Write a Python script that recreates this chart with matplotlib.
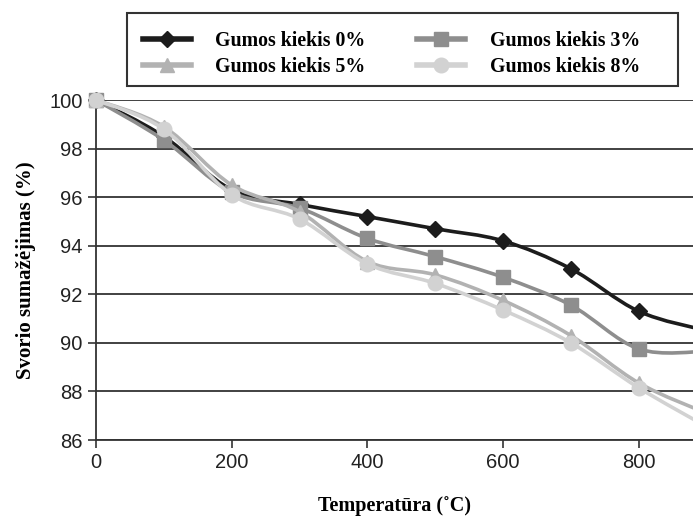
import numpy as np
import matplotlib
matplotlib.use("Agg")
import matplotlib.pyplot as plt
from matplotlib.path import Path
from matplotlib.patches import PathPatch, Rectangle
from matplotlib.lines import Line2D

# ---- data ----
temperature = [0, 100, 200, 300, 400, 500, 600, 700, 800, 900]
gum_0 = [100.0, 98.5, 96.3, 95.7, 95.2, 94.7, 94.2, 93.05, 91.3, 90.5]
gum_3 = [100.0, 98.35, 96.2, 95.55, 94.3, 93.55, 92.7, 91.55, 89.75, 89.65]
gum_5 = [100.0, 98.9, 96.5, 95.4, 93.35, 92.8, 91.75, 90.3, 88.35, 87.1]
gum_8 = [100.0, 98.8, 96.1, 95.1, 93.25, 92.45, 91.35, 90.0, 88.15, 86.55]
labels = ["Gumos kiekis 0%", "Gumos kiekis 3%", "Gumos kiekis 5%", "Gumos kiekis 8%"]
y_ticks = [86, 88, 90, 92, 94, 96, 98, 100]
x_ticks = [0, 200, 400, 600, 800]

series = [gum_0, gum_3, gum_5, gum_8]
colors = ["#1c1c1c", "#8e8e8e", "#b2b2b2", "#d2d2d2"]
markers = ["D", "s", "^", "o"]
msizes = [8, 10, 10, 10.5]

fig = plt.figure(figsize=(6.93, 5.16), dpi=100)
ax = fig.add_axes([96/693, 1-440/516, 1-96/693, (440-100)/516])

def smooth_path(xs, ys):
    xs = np.asarray(xs, float); ys = np.asarray(ys, float)
    pts = np.column_stack([xs, ys])
    n = len(pts)
    verts = [pts[0]]
    codes = [Path.MOVETO]
    for i in range(n - 1):
        p0 = pts[i - 1] if i > 0 else pts[i]
        p1 = pts[i]
        p2 = pts[i + 1]
        p3 = pts[i + 2] if i + 2 < n else pts[i + 1]
        c1 = p1 + (p2 - p0) / 6.0
        c2 = p2 - (p3 - p1) / 6.0
        verts += [c1, c2, p2]
        codes += [Path.CURVE4] * 3
    return Path(verts, codes)

for k, (ys, c, m, ms) in enumerate(zip(series, colors, markers, msizes)):
    patch = PathPatch(smooth_path(temperature, ys), facecolor="none",
                      edgecolor=c, lw=2.6, zorder=3 + k * 0.1)
    ax.add_patch(patch)
    ax.plot(temperature[:-1], ys[:-1], linestyle="none", marker=m,
            markersize=ms, color=c, zorder=3.05 + k * 0.1, clip_on=False)

ax.set_xlim(0, 880)
ax.set_ylim(86, 100)
ax.set_yticks(y_ticks)
ax.set_xticks(x_ticks)
ax.yaxis.grid(True, color="#333333", lw=1.3)
ax.set_axisbelow(True)
for s in ["top", "right"]:
    ax.spines[s].set_visible(False)
for s in ["left", "bottom"]:
    ax.spines[s].set_color("#333333")
    ax.spines[s].set_linewidth(1.3)
ax.tick_params(axis="both", direction="out", length=6, width=1.2, color="#333333",
               labelsize=14.5, labelcolor="#222222")
for lab in ax.get_xticklabels() + ax.get_yticklabels():
    lab.set_fontfamily("Liberation Sans")
ax.tick_params(axis="x", pad=3)

ax.set_xlabel("Temperatūra (˚C)", family="Liberation Serif", weight="bold",
              fontsize=14.5, labelpad=18)
ax.set_ylabel("Svorio sumažėjimas (%)", family="Liberation Serif", weight="bold",
              fontsize=15, labelpad=10)

# legend
handles = [Line2D([], [], color=c, lw=4, marker=m, markersize=ms)
           for c, m, ms in zip(colors, markers, msizes)]
order = [0, 2, 1, 3]
leg = fig.legend([handles[i] for i in order], [labels[i] for i in order],
                 ncol=2, loc="upper left", bbox_to_anchor=(143/693, 1-31/516),
                 frameon=False, handlelength=2.4, handletextpad=1.25,
                 columnspacing=2.6, labelspacing=0.32, borderaxespad=0,
                 borderpad=0,
                 prop={"family": "Liberation Serif", "weight": "bold", "size": 14.3})
fig.add_artist(Rectangle((127/693, 1-86/516), 551/693, 73/516,
                         transform=fig.transFigure, facecolor="none",
                         edgecolor="#333333", lw=1.5))

fig.savefig("out.png", dpi=100)
